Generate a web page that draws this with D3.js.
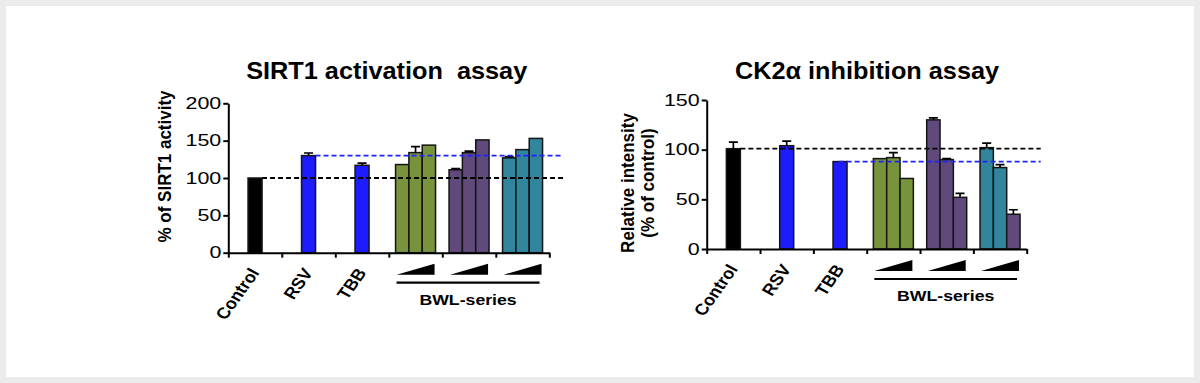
<!DOCTYPE html>
<html><head><meta charset="utf-8">
<script src="https://cdn.jsdelivr.net/npm/d3@7"></script>
<style>
body{margin:0;background:#ebebeb;}
svg{display:block;font-family:"Liberation Sans",Arial,Helvetica,sans-serif;}
</style></head><body>
<svg id="c" width="1200" height="383"></svg>
<script>
// ---------- DATA ----------
const categories = ["Control","RSV","TBB","BWL-1","BWL-2","BWL-3"];
const xLabels = ["Control","RSV","TBB"];
const doseLevels = ["low","mid","high"];
const seriesLabel = "BWL-series";

// SIRT1 activation assay
const sirtTitle = "SIRT1 activation  assay";
const sirtYLabel = ["% of SIRT1 activity"];
const sirtTicks = [0,50,100,150,200];
const sirtSingle = [100,130,117];
const sirtSingleErr = [0,3.5,3];
const sirtBWL1 = [118,134,144], sirtBWL1Err = [0,8,0];
const sirtBWL2 = [111,134,151], sirtBWL2Err = [1.5,2,0];
const sirtBWL3 = [127,138,153], sirtBWL3Err = [1.5,0,0];
const sirtRefBlack = 100, sirtRefBlue = 130;

// CK2alpha inhibition assay
const ckTitle = "CK2\u03b1 inhibition assay";
const ckYLabel = ["Relative intensity","(% of control)"];
const ckTicks = [0,50,100,150];
const ckSingle = [101,104,88];
const ckSingleErr = [6.5,4.5,0];
const ckBWL1 = [91,92,71], ckBWL1Err = [0,5,0];
const ckBWL2 = [130,90,52], ckBWL2Err = [2,1,4];
const ckBWL3 = [102,82,35], ckBWL3Err = [4.5,3,4.5];
const ckRefBlack = 101, ckRefBlue = 88;

// ---------- STYLE ----------
const C = {black:"#000000", blue:"#1c1cff", green:"#77933c", purple:"#5f4a7b", teal:"#31859c", dashBlue:"#2222ff"};
const svg = d3.select("#c");
svg.append("rect").attr("x",6).attr("y",6).attr("width",1188).attr("height",371).attr("fill","#fff");

function drawChart(cfg){
  const g = svg.append("g");
  const x = d3.scaleBand().domain(categories).range([cfg.x0,cfg.x1]).padding(0);
  const y = d3.scaleLinear().domain([0,cfg.yMax]).range([cfg.y0,cfg.yTop]);
  const GW = 40, SW = 14;
  const inner = d3.scaleBand().domain(doseLevels).range([0,GW]).padding(0);
  const bars = [];
  cfg.single.forEach((v,i)=>{
    const cx = x(categories[i]) + x.bandwidth()/2;
    bars.push({x:cx-SW/2, w:SW, v, e:cfg.singleErr[i], c:cfg.singleColors[i]});
  });
  cfg.groups.forEach((grp,gi)=>{
    const off = x(categories[3+gi]) + (x.bandwidth()-GW)/2;
    grp.vals.forEach((v,j)=>{
      bars.push({x:off+inner(doseLevels[j]), w:inner.bandwidth(), v, e:grp.err[j], c:grp.colors[j]});
    });
  });
  g.selectAll("rect.bar").data(bars).join("rect").attr("class","bar")
    .attr("x",d=>d.x).attr("width",d=>d.w)
    .attr("y",d=>y(d.v)).attr("height",d=>y(0)-y(d.v))
    .attr("fill",d=>d.c).attr("stroke","#151515").attr("stroke-width",1.5);
  // error bars
  const eb = bars.filter(d=>d.e>0);
  g.selectAll("path.err").data(eb).join("path").attr("class","err")
    .attr("d",d=>{const cx=d.x+d.w/2; return `M${cx},${y(d.v)}V${y(d.v+d.e)}M${cx-4.5},${y(d.v+d.e)}H${cx+4.5}`;})
    .attr("stroke","#000").attr("stroke-width",1.7).attr("fill","none");
  // reference dashed lines
  const b0 = bars[0], bb = bars[cfg.blueIdx];
  g.append("line").attr("x1",b0.x+b0.w).attr("x2",cfg.x1+14).attr("y1",y(cfg.refBlack)).attr("y2",y(cfg.refBlack))
    .attr("stroke","#000").attr("stroke-width",1.8).attr("stroke-dasharray","5,3");
  g.append("line").attr("x1",bb.x+bb.w*cfg.blueStart).attr("x2",cfg.x1+14).attr("y1",y(cfg.refBlue)).attr("y2",y(cfg.refBlue))
    .attr("stroke",C.dashBlue).attr("stroke-width",1.8).attr("stroke-dasharray","5,3");
  // axes
  const xt = d3.scaleLinear().domain([0,categories.length]).range([cfg.x0,cfg.x1]);
  const xa = g.append("g").attr("transform",`translate(0,${cfg.y0})`)
    .call(d3.axisBottom(xt).tickValues(d3.range(categories.length+1)).tickSize(5).tickSizeOuter(0).tickFormat(""));
  const ya = g.append("g").attr("transform",`translate(${cfg.x0},0)`)
    .call(d3.axisLeft(y).tickValues(cfg.ticks).tickSize(5).tickSizeOuter(0));
  [xa,ya].forEach(a=>{a.selectAll("path,line").attr("stroke","#000").attr("stroke-width",2);});
  const tsx = 1.3;
  ya.selectAll("text").attr("font-size",16.5).attr("fill","#000").attr("x",-7/tsx).attr("transform",`scale(${tsx},1)`);
  // x labels
  xLabels.forEach(lbl=>{
    const cx = x(lbl)+x.bandwidth()/2;
    g.append("text").attr("text-anchor","end").attr("font-weight","bold").attr("font-size",16)
      .attr("transform",`translate(${cx+5},${cfg.y0+20}) scale(1.15,1) rotate(-58)`).text(lbl);
  });
  // wedges
  const groupCats = categories.slice(3);
  groupCats.forEach(cat=>{
    const off = x(cat) + (x.bandwidth()-GW)/2;
    const l = off+1, r = off+GW-1;
    g.append("path").attr("d",`M${l},${cfg.y0+22}L${r},${cfg.y0+22}L${r},${cfg.y0+11}Z`).attr("fill","#000");
  });
  const gl = x(groupCats[0]) + (x.bandwidth()-GW)/2 + 1;
  const gr = x(groupCats[2]) + (x.bandwidth()-GW)/2 + GW - 3;
  g.append("line").attr("x1",gl).attr("x2",gr).attr("y1",cfg.y0+30).attr("y2",cfg.y0+30).attr("stroke","#000").attr("stroke-width",2.2);
  g.append("text").attr("text-anchor","middle").attr("font-weight","bold").attr("font-size",15)
    .attr("transform",`translate(${(gl+gr)/2},${cfg.y0+52}) scale(1.18,1)`).text(seriesLabel);
  // title
  g.append("text").attr("text-anchor","middle").attr("font-weight","bold").attr("font-size",23)
    .style("white-space","pre")
    .attr("transform",`translate(${cfg.titleX},79) scale(1.1,1)`).text(cfg.title);
  // y label
  cfg.yLabel.forEach((t,i)=>{
    g.append("text").attr("text-anchor","middle").attr("font-weight","bold").attr("font-size",17)
      .attr("transform",`translate(${cfg.yLabelX + i*20},${cfg.yLabelY}) rotate(-90) scale(1,1.1)`).text(t);
  });
}

drawChart({x0:228.3,x1:549.3,y0:252.7,yTop:103.3,yMax:200,ticks:sirtTicks,
  single:sirtSingle,singleErr:sirtSingleErr,singleColors:[C.black,C.blue,C.blue],
  groups:[{vals:sirtBWL1,err:sirtBWL1Err,colors:[C.green,C.green,C.green]},
          {vals:sirtBWL2,err:sirtBWL2Err,colors:[C.purple,C.purple,C.purple]},
          {vals:sirtBWL3,err:sirtBWL3Err,colors:[C.teal,C.teal,C.teal]}],
  refBlack:sirtRefBlack,refBlue:sirtRefBlue,blueIdx:1,blueStart:1,
  title:sirtTitle,titleX:386.7,yLabel:sirtYLabel,yLabelX:171,yLabelY:166.5});

drawChart({x0:706.7,x1:1026.7,y0:249,yTop:100,yMax:150,ticks:ckTicks,
  single:ckSingle,singleErr:ckSingleErr,singleColors:[C.black,C.blue,C.blue],
  groups:[{vals:ckBWL1,err:ckBWL1Err,colors:[C.green,C.green,C.green]},
          {vals:ckBWL2,err:ckBWL2Err,colors:[C.purple,C.purple,C.purple]},
          {vals:ckBWL3,err:ckBWL3Err,colors:[C.teal,C.teal,C.purple]}],
  refBlack:ckRefBlack,refBlue:ckRefBlue,blueIdx:2,blueStart:0.4,
  title:ckTitle,titleX:867,yLabel:ckYLabel,yLabelX:634,yLabelY:183});
</script></body></html>
